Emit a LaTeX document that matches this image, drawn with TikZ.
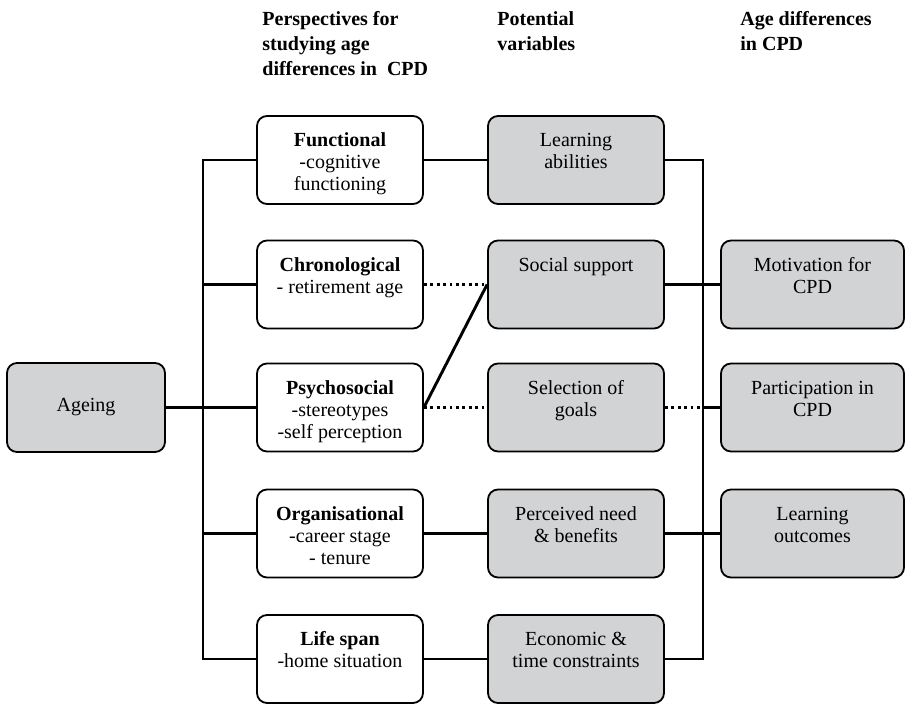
\documentclass[tikz,border=0pt]{standalone}
\usepackage{fontspec}
\setmainfont{Liberation Serif}
\usetikzlibrary{calc,positioning}
\definecolor{boxgray}{RGB}{210,211,212}
\tikzset{
   box/.style={ rectangle, draw=black, line width=0.9pt, rounded corners=5pt, minimum height=44pt, inner sep=0pt,
      execute at begin node={\begin{minipage}[c][44pt][t]{#1}\centering\fontsize{10}{11}\selectfont\rule{0pt}{15.3pt}},
      execute at end node={\end{minipage}}},
   perspective box/.style={ box=83pt, fill=white},
   variable box/.style={ box=88pt, fill=boxgray},
   outcome box/.style={ box=91.5pt, fill=boxgray},
   root box/.style={ rectangle, draw=black, line width=0.9pt, rounded corners=5pt, fill=boxgray, minimum width=79pt, minimum height=44.5pt, font=\fontsize{10}{11}\selectfont},
   heading/.style={ anchor=north west, align=left, inner sep=0pt, font=\fontsize{10}{12.5}\selectfont\bfseries},
   link/.style={ line width=1.45pt},
   weak link/.style={ line width=1.45pt, dash pattern=on 1.4pt off 1.8pt}
}
\begin{document}
\begin{tikzpicture}[x=0.5pt,y=-0.5pt]

  \useasboundingbox (0,0) rectangle (905,705);

  \node[heading] at (262,11) (perspectives heading) {Perspectives for\\studying age\\differences in~~CPD};
  \node[heading] at (497,11) (variables heading)    {Potential\\variables};
  \node[heading] at (740,11) (differences heading)  {Age differences\\in CPD};

  \node[root box] at (86,407.5) (ageing) {Ageing};

  \node[perspective box] at (340,160)   (functional)     {\textbf{Functional}\\-cognitive\\functioning};
  \node[perspective box] at (340,284.5) (chronological)  {\textbf{Chronological}\\- retirement age};
  \node[perspective box] at (340,407.5) (psychosocial)   {\textbf{Psychosocial}\\-stereotypes\\-self perception};
  \node[perspective box] at (340,533.5) (organisational) {\textbf{Organisational}\\-career stage\\- tenure};
  \node[perspective box] at (340,659)   (life span)      {\textbf{Life span}\\-home situation};

  \node[variable box] at (576,160)   (learning abilities) {Learning\\abilities};
  \node[variable box] at (576,284.5) (social support)     {Social support};
  \node[variable box] at (576,407.5) (selection of goals) {Selection of\\goals};
  \node[variable box] at (576,533.5) (perceived need)     {Perceived need\\\& benefits};
  \node[variable box] at (576,659)   (economic)           {Economic \&\\time constraints};

  \node[outcome box] at (812.5,284.5) (motivation)        {Motivation for\\CPD};
  \node[outcome box] at (812.5,407.5) (participation)     {Participation in\\CPD};
  \node[outcome box] at (812.5,533.5) (learning outcomes) {Learning\\outcomes};

  \coordinate (left trunk)  at (203,0);
  \coordinate (right trunk) at (703,0);

  %% Left tree
  \draw[link] (ageing) -- (psychosocial);
  \draw[link] (functional.west) -| (life span.west -| left trunk) -- (life span.west);
  \draw[link] (chronological.west) -- (chronological.west -| left trunk);
  \draw[link] (organisational.west) -- (organisational.west -| left trunk);

  \draw[link]      (functional) -- (learning abilities);
  \draw[weak link] (chronological) -- (social support);
  \draw[link]      (psychosocial.east) -- (social support.west);
  \draw[weak link] (psychosocial) -- (selection of goals);
  \draw[link]      (organisational) -- (perceived need);
  \draw[link]      (life span) -- (economic);

  %% Right tree
  \draw[link] (learning abilities.east) -| (economic.east -| right trunk) -- (economic.east);
  \draw[link] (social support) -- (motivation);
  \draw[weak link] (selection of goals.east) -- (selection of goals.east -| right trunk);
  \draw[link] (selection of goals.east -| right trunk) -- (participation.west);
  \draw[link] (perceived need) -- (learning outcomes);

\end{tikzpicture}
\end{document}
